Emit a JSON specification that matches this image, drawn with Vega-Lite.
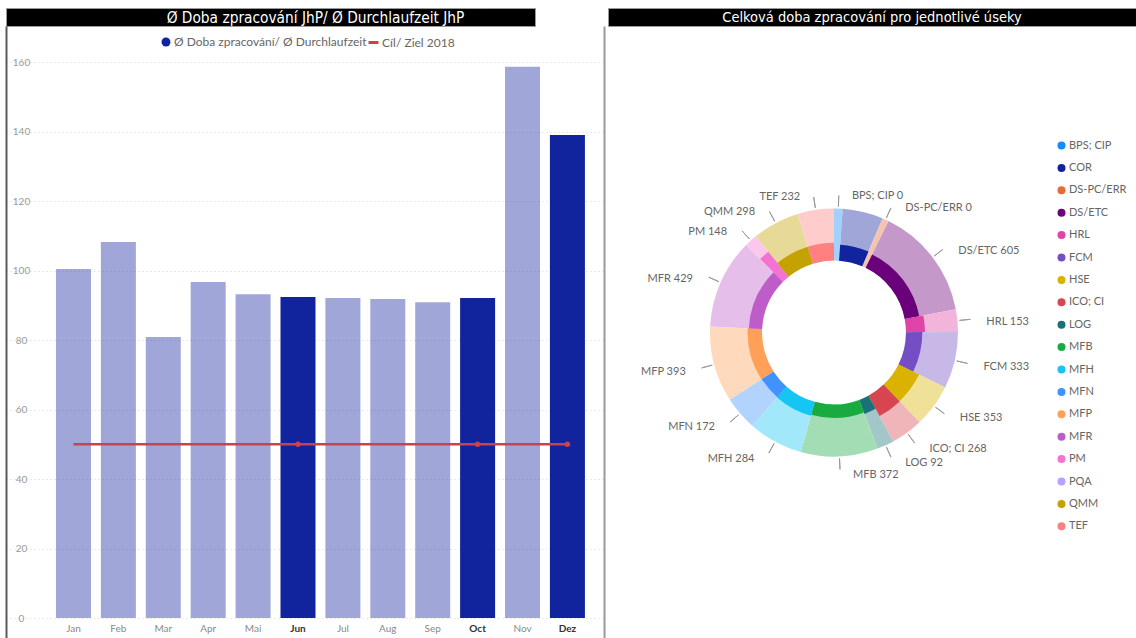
{
  "$schema": "https://vega.github.io/schema/vega-lite/v6.json",
  "background": "#ffffff",
  "padding": {"left": 5, "top": 7, "right": 0, "bottom": 0},
  "config": {"view": {"stroke": null}, "font": "Lato"},
  "datasets": {
    "mesice": [
      {"mesic": "Jan", "doba": 100.4, "cil": 50, "zvyrazneno": false},
      {"mesic": "Feb", "doba": 108.2, "cil": 50, "zvyrazneno": false},
      {"mesic": "Mar", "doba": 80.9, "cil": 50, "zvyrazneno": false},
      {"mesic": "Apr", "doba": 96.7, "cil": 50, "zvyrazneno": false},
      {"mesic": "Mai", "doba": 93.2, "cil": 50, "zvyrazneno": false},
      {"mesic": "Jun", "doba": 92.4, "cil": 50, "zvyrazneno": true},
      {"mesic": "Jul", "doba": 92.1, "cil": 50, "zvyrazneno": false},
      {"mesic": "Aug", "doba": 91.8, "cil": 50, "zvyrazneno": false},
      {"mesic": "Sep", "doba": 90.9, "cil": 50, "zvyrazneno": false},
      {"mesic": "Oct", "doba": 92.1, "cil": 50, "zvyrazneno": true},
      {"mesic": "Nov", "doba": 158.6, "cil": 50, "zvyrazneno": false},
      {"mesic": "Dez", "doba": 139.0, "cil": 50, "zvyrazneno": true}
    ],
    "useky": [
      {"poradi": 1, "usek": "BPS; CIP", "celkem": 160, "vybrano": 0},
      {"poradi": 2, "usek": "COR", "celkem": 760, "vybrano": 235},
      {"poradi": 3, "usek": "DS-PC/ERR", "celkem": 120, "vybrano": 0},
      {"poradi": 4, "usek": "DS/ETC", "celkem": 2120, "vybrano": 605},
      {"poradi": 5, "usek": "HRL", "celkem": 420, "vybrano": 153},
      {"poradi": 6, "usek": "FCM", "celkem": 1060, "vybrano": 333},
      {"poradi": 7, "usek": "HSE", "celkem": 800, "vybrano": 353},
      {"poradi": 8, "usek": "ICO; CI", "celkem": 600, "vybrano": 268},
      {"poradi": 9, "usek": "LOG", "celkem": 320, "vybrano": 92},
      {"poradi": 10, "usek": "MFB", "celkem": 1440, "vybrano": 372},
      {"poradi": 11, "usek": "MFH", "celkem": 1024, "vybrano": 284},
      {"poradi": 12, "usek": "MFN", "celkem": 640, "vybrano": 172},
      {"poradi": 13, "usek": "MFP", "celkem": 1416, "vybrano": 393},
      {"poradi": 14, "usek": "MFR", "celkem": 1680, "vybrano": 429},
      {"poradi": 15, "usek": "PM", "celkem": 240, "vybrano": 148},
      {"poradi": 16, "usek": "PQA", "celkem": 0, "vybrano": 0},
      {"poradi": 17, "usek": "QMM", "celkem": 880, "vybrano": 298},
      {"poradi": 18, "usek": "TEF", "celkem": 680, "vybrano": 232}
    ]
  },
  "hconcat": [
    {
      "spacing": 0,
      "bounds": "flush",
      "vconcat": [
        {
          "width": 529,
          "height": 18,
          "view": {"fill": "#000000", "stroke": "#9a9a9a"},
          "data": {"values": [{"nazev": "Ø Doba zpracování JhP/ Ø Durchlaufzeit JhP"}]},
          "mark": {"type": "text", "color": "#ffffff", "font": "DejaVu Sans Condensed", "fontSize": 15.3, "dx": 45, "dy": 1},
          "encoding": {"text": {"field": "nazev"}}
        },
        {
          "width": 598,
          "height": 613,
          "data": {"name": "mesice"},
          "encoding": {
            "x": {
              "field": "mesic",
              "type": "ordinal",
              "sort": null,
              "scale": {"paddingInner": 0.2205, "paddingOuter": 0.769, "align": 0.7236},
              "axis": {
                "title": null,
                "domain": false,
                "ticks": false,
                "grid": false,
                "labelAngle": 0,
                "labelPadding": -16,
                "labelFontSize": 10,
                "labelColor": {"condition": {"test": "indexof(['Jun','Oct','Dez'], datum.value) >= 0", "value": "#333333"}, "value": "#8a8a8a"},
                "labelFontWeight": {"condition": {"test": "indexof(['Jun','Oct','Dez'], datum.value) >= 0", "value": "bold"}, "value": "normal"}
              }
            }
          },
          "layer": [
            {
              "mark": {"type": "bar"},
              "encoding": {
                "y": {
                  "field": "doba",
                  "type": "quantitative",
                  "scale": {"domain": [-6.04, 170.36], "nice": false, "zero": false},
                  "axis": {
                    "orient": "left",
                    "title": null,
                    "values": [0, 20, 40, 60, 80, 100, 120, 140, 160],
                    "grid": true,
                    "gridColor": "#d6d6d6",
                    "gridDash": [1, 3],
                    "domain": true,
                    "domainColor": "#5a5a5a",
                    "domainWidth": 2,
                    "ticks": false,
                    "tickSize": 0,
                    "labelAlign": "center",
                    "labelPadding": -15,
                    "labelColor": "#9a9a9a",
                    "labelFontSize": 10
                  }
                },
                "color": {
                  "datum": "Ø Doba zpracování/ Ø Durchlaufzeit",
                  "scale": {"domain": ["Ø Doba zpracování/ Ø Durchlaufzeit"], "range": ["#12239E"]},
                  "legend": {
                    "orient": "none",
                    "legendX": 154,
                    "legendY": 28,
                    "title": null,
                    "symbolType": "circle",
                    "labelFontSize": 12,
                    "labelColor": "#666666",
                    "labelLimit": 400,
                    "labelOffset": 2,
                    "symbolSize": 80,
                    "symbolOpacity": 1
                  }
                },
                "opacity": {"condition": {"test": "datum.zvyrazneno", "value": 1}, "value": 0.4}
              }
            },
            {
              "mark": {"type": "line", "strokeWidth": 2.5},
              "encoding": {
                "y": {
                  "field": "cil",
                  "type": "quantitative",
                  "axis": {"orient": "right", "title": null, "labels": false, "ticks": false, "grid": false, "domain": true, "domainColor": "#9a9a9a", "domainWidth": 2}
                },
                "stroke": {
                  "datum": "Cíl/ Ziel 2018",
                  "scale": {"domain": ["Cíl/ Ziel 2018"], "range": ["#C9424E"]},
                  "legend": {
                    "orient": "none",
                    "legendX": 361,
                    "legendY": 28,
                    "title": null,
                    "symbolType": "stroke",
                    "symbolStrokeWidth": 3,
                    "symbolSize": 100,
                    "labelFontSize": 12,
                    "labelColor": "#666666",
                    "labelOffset": 2
                  }
                }
              }
            },
            {
              "transform": [{"filter": "datum.zvyrazneno"}],
              "mark": {"type": "point", "filled": true, "size": 30, "opacity": 1},
              "encoding": {
                "y": {"field": "cil", "type": "quantitative", "axis": null},
                "color": {"value": "#C9424E"}
              }
            }
          ],
          "resolve": {"axis": {"y": "independent"}}
        }
      ]
    },
    {
      "spacing": 0,
      "bounds": "flush",
      "vconcat": [
        {
          "width": 528,
          "height": 18,
          "view": {"fill": "#000000", "stroke": "#9a9a9a"},
          "data": {"values": [{"nazev": "Celková doba zpracování pro jednotlivé úseky"}]},
          "mark": {"type": "text", "color": "#ffffff", "font": "DejaVu Sans Condensed", "fontSize": 14.5, "dy": 1},
          "encoding": {"text": {"field": "nazev"}}
        },
        {
          "width": 452,
          "height": 613,
          "data": {"name": "useky"},
          "transform": [
            {"calculate": "datum.celkem > 0 ? datum.vybrano / datum.celkem : 0", "as": "podil"},
            {"calculate": "datum.usek + ' ' + datum.vybrano", "as": "stitek"},
            {"stack": "celkem", "groupby": [], "sort": [{"field": "poradi", "order": "ascending"}], "as": ["t0", "t1"]}
          ],
          "layer": [
            {
              "mark": {"type": "arc", "radius": 124, "radius2": 72},
              "encoding": {
                "theta": {"field": "t0", "type": "quantitative", "scale": {"nice": false, "zero": true}},
                "theta2": {"field": "t1"},
                "color": {
                  "field": "usek",
                  "type": "nominal",
                  "scale": {
                    "domain": ["BPS; CIP", "COR", "DS-PC/ERR", "DS/ETC", "HRL", "FCM", "HSE", "ICO; CI", "LOG", "MFB", "MFH", "MFN", "MFP", "MFR", "PM", "PQA", "QMM", "TEF"],
                    "range": ["#A0D1FF", "#A0A7D8", "#F5C4AF", "#C499CA", "#F3B4DC", "#C7B8E7", "#F0E199", "#EFB5B9", "#A3C7C9", "#A3DDB3", "#A1E8FB", "#B3D3FF", "#FFD9BC", "#E5BEE9", "#FBC7EC", "#E1D9FF", "#E7DA99", "#FFCCCC"]
                  },
                  "legend": null
                }
              }
            },
            {
              "mark": {"type": "arc", "radius2": 72},
              "encoding": {
                "theta": {"field": "t0", "type": "quantitative"},
                "theta2": {"field": "t1"},
                "radius": {"field": "podil", "type": "quantitative", "scale": {"type": "linear", "domain": [0, 1], "range": [72, 124], "zero": false}},
                "color": {
                  "field": "usek",
                  "type": "nominal",
                  "scale": {
                    "domain": ["BPS; CIP", "COR", "DS-PC/ERR", "DS/ETC", "HRL", "FCM", "HSE", "ICO; CI", "LOG", "MFB", "MFH", "MFN", "MFP", "MFR", "PM", "PQA", "QMM", "TEF"],
                    "range": ["#118DFF", "#12239E", "#E66C37", "#6B007B", "#E044A7", "#744EC2", "#D9B300", "#D64550", "#197278", "#1AAB40", "#15C6F4", "#4092FF", "#FFA058", "#BE5DC9", "#F472D0", "#B5A1FF", "#C4A200", "#FF8080"]
                  },
                  "legend": {
                    "orient": "none",
                    "legendX": 448,
                    "legendY": 114,
                    "title": null,
                    "symbolType": "circle",
                    "symbolSize": 64,
                    "labelFontSize": 11,
                    "labelColor": "#666666",
                    "labelOffset": 2,
                    "labelLimit": 200,
                    "rowPadding": 10.4
                  }
                }
              }
            },
            {
              "mark": {"type": "arc", "radius": 137, "radius2": 126, "padAngle": 3, "filled": false, "stroke": "#9a9a9a", "strokeWidth": 1},
              "encoding": {
                "theta": {"field": "t0", "type": "quantitative"},
                "theta2": {"field": "t1"},
                "opacity": {"condition": {"test": "datum.usek === 'COR' || datum.usek === 'PQA'", "value": 0}, "value": 1}
              }
            },
            {
              "mark": {"type": "text", "align": "left", "baseline": "middle", "dx": 13, "dy": 3, "fontSize": 11, "color": "#666666"},
              "encoding": {
                "theta": {"field": "celkem", "type": "quantitative", "stack": true},
                "order": {"field": "poradi", "type": "quantitative"},
                "detail": {"field": "usek"},
                "radius": {"value": 140},
                "text": {"condition": {"test": "indexof(['BPS; CIP','DS-PC/ERR','DS/ETC','HRL','FCM','HSE','ICO; CI','LOG','MFB'], datum.usek) >= 0", "field": "stitek"}, "value": ""}
              }
            },
            {
              "mark": {"type": "text", "align": "right", "baseline": "middle", "dx": -13, "dy": 3, "fontSize": 11, "color": "#666666"},
              "encoding": {
                "theta": {"field": "celkem", "type": "quantitative", "stack": true},
                "order": {"field": "poradi", "type": "quantitative"},
                "detail": {"field": "usek"},
                "radius": {"value": 140},
                "text": {"condition": {"test": "indexof(['MFH','MFN','MFP','MFR','PM','QMM','TEF'], datum.usek) >= 0", "field": "stitek"}, "value": ""}
              }
            }
          ],
          "resolve": {"scale": {"color": "independent"}, "legend": {"color": "independent"}}
        }
      ]
    }
  ],
  "spacing": 3,
  "bounds": "full",
  "resolve": {"scale": {"color": "independent"}, "legend": {"color": "independent"}}
}
